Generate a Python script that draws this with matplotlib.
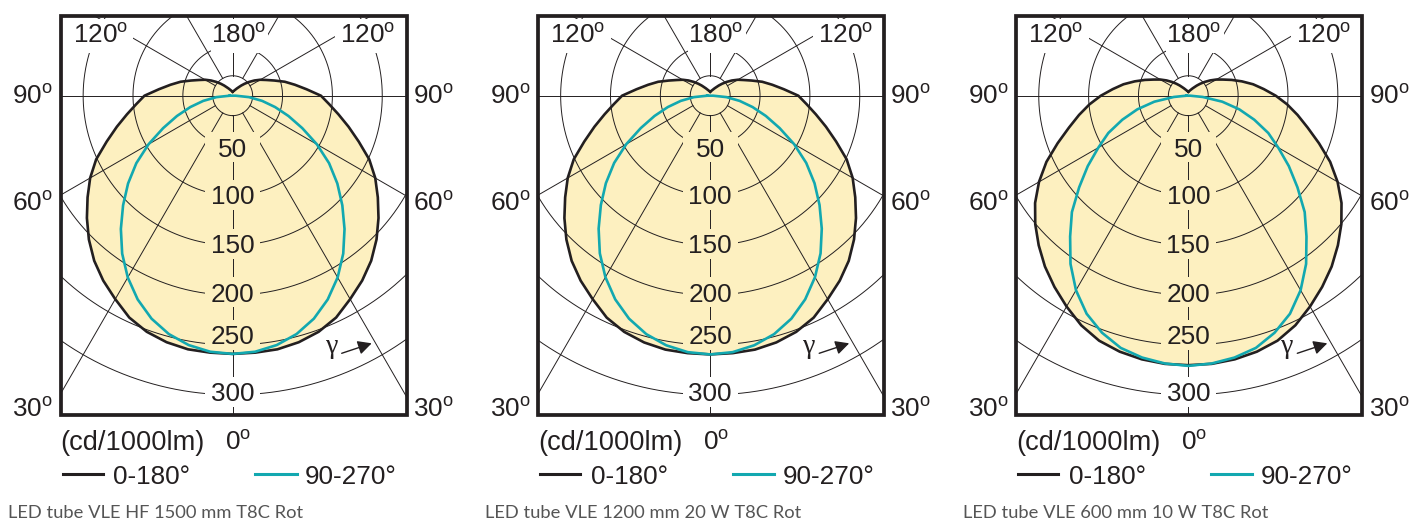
import numpy as np
import matplotlib
matplotlib.use("Agg")
import matplotlib.pyplot as plt
from matplotlib.patches import Rectangle
from matplotlib.lines import Line2D
from matplotlib.transforms import Affine2D

plt.rcParams["font.family"] = ["Liberation Sans", "DejaVu Sans"]
plt.rcParams["mathtext.fontset"] = "custom"
plt.rcParams["mathtext.rm"] = "Liberation Sans"
plt.rcParams["mathtext.it"] = "Liberation Sans"
plt.rcParams["mathtext.bf"] = "Liberation Sans"

# ---------------- data (luminous intensity, cd/1000lm) ----------------
gamma_c0 = list(range(0, 181, 5))     # C0-C180 plane, 0..180 deg
gamma_c90 = list(range(0, 91, 5))     # C90-C270 plane, 0..90 deg

p1_c0 = [259, 258.7, 258.3, 256, 252, 245.5, 235.6, 226.4, 216.1, 204, 190.9,
         177.7, 165.1, 151.1, 134.5, 120.3, 107.7, 97.1, 88.5, 74.3, 63.3,
         54.1, 44.5, 37.3, 32, 26.6, 21.5, 17, 13.3, 10.3, 8.4, 6.9, 5.9, 5.2,
         4.7, 4.3, 4]
p1_c90 = [259, 257.8, 254, 247.5, 238, 225.5, 210.5, 193.3, 174.5, 155.5, 137,
          118, 97.5, 77, 59.5, 44, 30, 16.4, 3]

p2_c0 = [259.5, 259.2, 258.6, 256.2, 252.1, 245.6, 235.7, 226.5, 216.2, 204,
         190.9, 177.6, 165, 151, 134.4, 120.2, 107.6, 97, 88.4, 74.2, 63.2,
         54, 44.4, 37.2, 32, 26.6, 21.5, 17, 13.3, 10.3, 8.4, 6.9, 5.9, 5.2,
         4.7, 4.3, 4]
p2_c90 = [259.5, 258.2, 254.2, 247.6, 238, 225.4, 210.2, 193, 174.1, 155.1,
          136.6, 117.6, 97.2, 76.8, 59.4, 44, 30, 16.4, 3]

p3_c0 = [270.3, 270, 268.5, 265.8, 261.5, 254.1, 244.2, 234.1, 223.7, 212.2,
         200.4, 187.6, 172.9, 157, 139.5, 124, 111.3, 99.5, 87.7, 76, 66,
         55.6, 46.3, 38.3, 32.4, 26.7, 21.5, 17, 13.3, 10.3, 8.4, 6.9, 5.9,
         5.2, 4.7, 4.3, 4]
p3_c90 = [271, 269.6, 266.7, 261.9, 253, 241.3, 225.3, 206, 184.4, 165.1,
          142.9, 123.1, 104.2, 88.5, 70.4, 53, 34.6, 14.5, 2]

titles = ["LED tube VLE HF 1500 mm T8C Rot",
          "LED tube VLE 1200 mm 20 W T8C Rot",
          "LED tube VLE 600 mm 10 W T8C Rot"]
ring_values = [50, 100, 150, 200, 250, 300]
ring_labels = ["50", "100", "150", "200", "250", "300"]
spoke_angles = [0, 30, 60, 90, 120, 150, 180]
side_angles = [90, 60, 30]
unit_text = "(cd/1000lm)"
legend_texts = ["0-180°", "90-270°"]

# ---------------- layout ----------------
W, H = 1411, 521
CXS = [232.7, 710.2, 1188.3]
CY = 95.7
K = 0.997          # pixels per cd/1000lm
RMAX = 400
HUB = 20
BOX_L, BOX_R, BOX_T, BOX_B = -172.0, 174.0, 15.7, 415.0
INK = "#231f20"
FILL = "#fdf0c0"
TEAL = "#12a8b0"
FS = 18.8

fig = plt.figure(figsize=(W / 100, H / 100), dpi=100)
fig.patch.set_facecolor("white")
px = Affine2D().scale(1.0 / W, -1.0 / H).translate(0, 1) + fig.transFigure


def deg(s):
    return s + r"$^{\mathrm{o}}$"


ring_label_y = [147.3, 194.7, 244.0, 292.3, 334.5, 392.0]

for cx, c0, c90, title in zip(CXS, [p1_c0, p2_c0, p3_c0],
                              [p1_c90, p2_c90, p3_c90], titles):
    ax = fig.add_axes([(cx - RMAX * K) / W, 1 - (CY + RMAX * K) / H,
                       2 * RMAX * K / W, 2 * RMAX * K / H], projection="polar")
    ax.set_autoscale_on(False)
    ax.set_theta_zero_location("S")
    ax.set_theta_direction(1)
    ax.set_ylim(0, RMAX)
    ax.axis("off")

    clip = Rectangle((cx + BOX_L, BOX_T), BOX_R - BOX_L, BOX_B - BOX_T, transform=px)

    g0 = np.array(gamma_c0, float)
    v0 = np.array(c0, float)
    th0 = np.radians(np.concatenate([-g0[::-1], g0[1:]]))
    r0 = np.concatenate([v0[::-1], v0[1:]])
    g9 = np.array(gamma_c90, float)
    v9 = np.array(c90, float)
    th9 = np.radians(np.concatenate([-g9[::-1], g9[1:], [-g9[-1]]]))
    r9 = np.concatenate([v9[::-1], v9[1:], [v9[-1]]])

    # fill of the C0-C180 curve
    ax.fill(th0, r0, color=FILL, lw=0, zorder=1)

    # grid rings
    full = np.linspace(0, 2 * np.pi, 721)
    for rv in ring_values + [HUB]:
        ln, = ax.plot(full, np.full_like(full, rv), color=INK, lw=0.7, zorder=2)
        ln.set_clip_path(clip)
    # spokes
    for a in spoke_angles:
        sides = [1, -1] if 0 < a < 180 else [1]
        for s in sides:
            start = 0 if a == 90 else HUB
            ln, = ax.plot([np.radians(s * a)] * 2, [start, RMAX], color=INK,
                          lw=0.7, zorder=2)
            ln.set_clip_path(clip)

    def knock(x0, y0, x1, y1, color):
        ax.add_artist(Rectangle((cx + x0, y0), x1 - x0, y1 - y0, transform=px,
                                facecolor=color, edgecolor="none", zorder=3))

    # knock-outs behind labels
    for lab, yc in zip(ring_labels, ring_label_y):
        col = FILL if lab != "300" else "white"
        knock(-27.5, yc - 15, 27.5, yc + 15, col)
    knock(-22, 18.5, 35.6, 53.3, "white")
    knock(-171, 18.5, -99.4, 53.3, "white")
    knock(102.3, 18.5, 173, 53.3, "white")

    # curves
    ax.plot(th0, r0, color=INK, lw=1.9, zorder=4, solid_joinstyle="round")
    ax.plot(th9, r9, color=TEAL, lw=1.9, zorder=4.2, solid_joinstyle="round")

    def T(x, y, s, **kw):
        kw.setdefault("fontsize", FS)
        kw.setdefault("color", INK)
        kw.setdefault("va", "baseline")
        ax.text(cx + x, y, s, transform=px, zorder=5, **kw)

    for lab, yc in zip(ring_labels, ring_label_y):
        T(0, yc + 9.3, lab, ha="center")

    T(5.5, 42.5, deg("180"), ha="center")
    T(-104.7, 42.5, deg("120"), ha="right")
    T(107.3, 42.5, deg("120"), ha="left")

    side_y = [103.3, 211.0, 416.7]
    for a, yb in zip(side_angles, side_y):
        T(-180, yb, deg(str(a)), ha="right")
        T(180.3, yb, deg(str(a)), ha="left")

    T(-172, 450, unit_text, ha="left", fontsize=19.6)
    T(5.5, 450, deg("0"), ha="center")

    # legend
    for (x0, x1), colr, txt, xt in zip([(-170, -130), (22.3, 64)], [INK, TEAL],
                                       legend_texts, [-119.7, 72.3]):
        ax.add_artist(Line2D([cx + x0, cx + x1], [474.3, 474.3], transform=px,
                             color=colr, lw=2.2, clip_on=False, zorder=5))
        T(xt, 483.5, txt, ha="left")

    # gamma arrow
    T(99, 353, "γ", ha="center", family=["Liberation Serif", "DejaVu Serif"],
      fontsize=20)
    ax.annotate("", xy=(cx + 139, 343.3), xycoords=px, xytext=(cx + 109, 353.3),
                textcoords=px, annotation_clip=False, zorder=5,
                arrowprops=dict(arrowstyle="-|>,head_length=0.55,head_width=0.28",
                                color=INK, lw=1.0, mutation_scale=15,
                                shrinkA=0, shrinkB=0))

    # frame
    ax.add_artist(Rectangle((cx + BOX_L, BOX_T), BOX_R - BOX_L, BOX_B - BOX_T,
                            transform=px, facecolor="none", edgecolor=INK,
                            lw=2.7, zorder=6, clip_on=False))

    # caption
    T(-225, 518.3, title, ha="left", fontsize=13.2, color="#555555",
      family=["Lato", "DejaVu Sans"])

fig.savefig("out.png", dpi=100)
